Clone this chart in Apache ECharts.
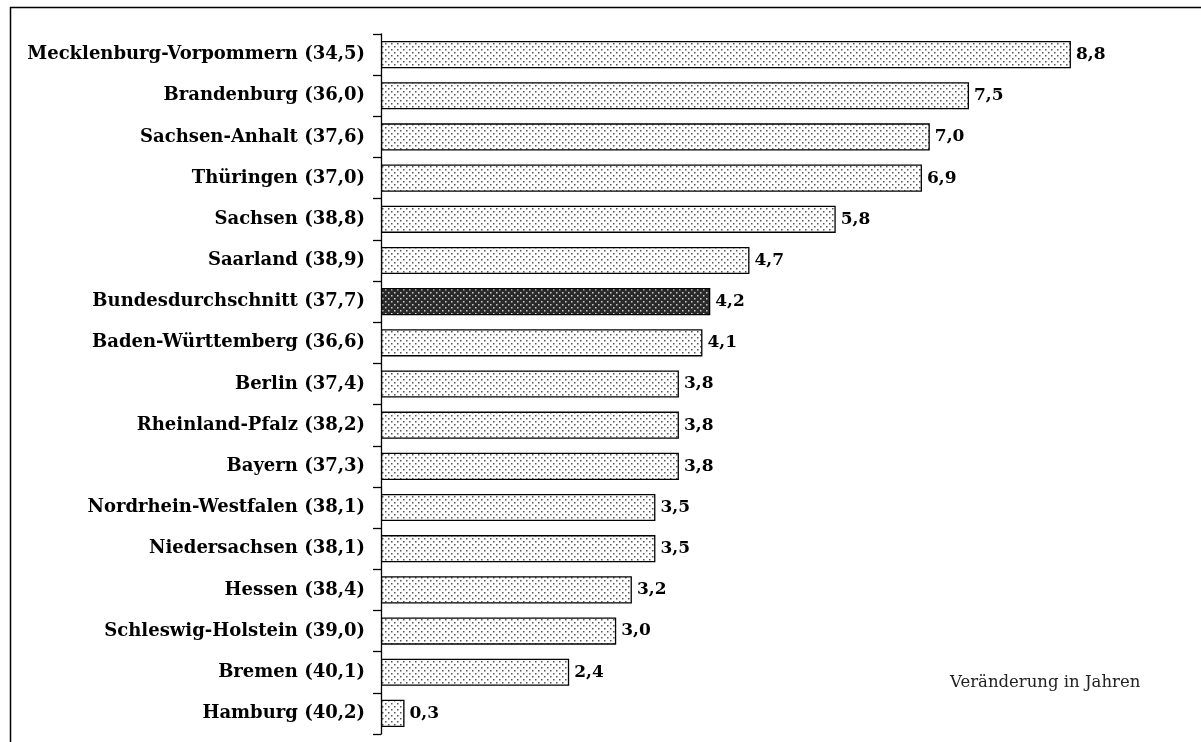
<!DOCTYPE html>
<html><head><meta charset="utf-8">
<script src="https://cdn.jsdelivr.net/npm/echarts@6/dist/echarts.min.js"></script>
<style>html,body{margin:0;padding:0;background:#fff}#c{width:1201px;height:742px}</style>
</head><body><div id="c"></div>
<script>
const regions = ["Mecklenburg-Vorpommern","Brandenburg","Sachsen-Anhalt","Thüringen","Sachsen","Saarland","Bundesdurchschnitt","Baden-Württemberg","Berlin","Rheinland-Pfalz","Bayern","Nordrhein-Westfalen","Niedersachsen","Hessen","Schleswig-Holstein","Bremen","Hamburg"];
const ages = ["34,5","36,0","37,6","37,0","38,8","38,9","37,7","36,6","37,4","38,2","37,3","38,1","38,1","38,4","39,0","40,1","40,2"];
const changes = [8.8,7.5,7.0,6.9,5.8,4.7,4.2,4.1,3.8,3.8,3.8,3.5,3.5,3.2,3.0,2.4,0.3];
const highlight = "Bundesdurchschnitt";
const unitNote = "Veränderung in Jahren";

function makePattern(bg, dot){
  const c = document.createElement('canvas'); c.width = 6; c.height = 6;
  const g = c.getContext('2d');
  g.fillStyle = bg; g.fillRect(0,0,6,6);
  g.fillStyle = dot;
  g.fillRect(1,1,1.5,1.5); g.fillRect(4,4,1.5,1.5);
  return c;
}
const lightPat = {image: makePattern('#ffffff','#555555'), repeat:'repeat'};
const darkPat = {image: makePattern('#2a2a2a','#cfcfcf'), repeat:'repeat'};

const font = '"DejaVu Serif","Liberation Serif",serif';
const chart = echarts.init(document.getElementById('c'));
chart.setOption({
  animation:false,
  grid:{left:381, right:36, top:34, bottom:8},
  xAxis:{type:'value', min:0, max:10, show:false},
  yAxis:{type:'category', inverse:true,
    data: regions.map((r,i)=>r+' ('+ages[i]+')'),
    axisLine:{lineStyle:{color:'#000', width:1.3}},
    axisTick:{show:true, length:8, lineStyle:{color:'#000', width:1.3}},
    axisLabel:{color:'#000', fontFamily:font, fontWeight:'bold', fontSize:18, margin:16}
  },
  series:[{type:'bar', barCategoryGap:'34%',
    data: changes.map((v,i)=>({value:v, itemStyle:{color: regions[i]===highlight?darkPat:lightPat}})),
    itemStyle:{borderColor:'#000', borderWidth:1.3},
    label:{show:true, position:'right', distance:5, color:'#000', fontFamily:font, fontWeight:'bold', fontSize:17,
      formatter:p=>p.value.toFixed(1).replace('.',',')}
  }],
  graphic:[
    {type:'rect', shape:{x:10.5,y:7.5,width:1300,height:900}, style:{fill:'none', stroke:'#000', lineWidth:1.5}, silent:true},
    {type:'text', left:950, top:674, style:{text:unitNote, font:'16.5px '+font, fill:'#222'}}
  ]
});
</script></body></html>
